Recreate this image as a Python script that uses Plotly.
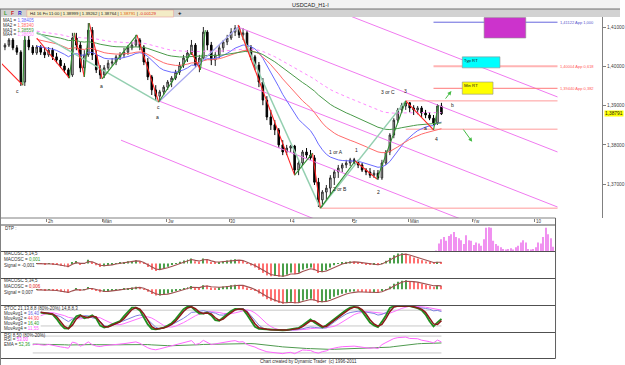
import numpy as np
import plotly.graph_objects as go

# ---------------- data ----------------
OPEN = [1.4049,1.4054,1.4067,1.4047,1.4036,1.3960,1.4067,1.4049,1.4034,1.4049,
        1.4036,1.4029,1.4041,1.4024,1.4016,1.4001,1.3991,1.3978,1.4072,1.4054,
        1.3996,1.4029,1.4092,1.4029,1.3991,1.3978,1.3996,1.4008,1.4011,1.4024,
        1.4029,1.4036,1.4047,1.4054,1.4067,1.4049,1.4011,1.3973,1.3940,1.3924,
        1.3935,1.3947,1.3960,1.3970,1.3985,1.4003,1.4021,1.4034,1.4054,1.4003,
        1.4021,1.4087,1.4054,1.4016,1.4029,1.4047,1.4062,1.4072,1.4087,1.4097,
        1.4080,1.4085,1.4047,1.4024,1.4003,1.3960,1.3914,1.3871,1.3851,1.3838,
        1.3800,1.3782,1.3792,1.3797,1.3736,1.3754,1.3782,1.3774,1.3767,1.3705,
        1.3660,1.3680,1.3690,1.3716,1.3731,1.3741,1.3749,1.3754,1.3762,1.3756,
        1.3749,1.3736,1.3731,1.3723,1.3728,1.3716,1.3754,1.3782,1.3825,1.3863,
        1.3889,1.3899,1.3907,1.3894,1.3889,1.3894,1.3881,1.3876,1.3868,1.3856,
        1.3899]
HIGH = [1.4059,1.4072,1.4072,1.4054,1.4041,1.4077,1.4077,1.4054,1.4054,1.4054,
        1.4047,1.4049,1.4047,1.4034,1.4021,1.4008,1.3996,1.4085,1.4085,1.4062,
        1.4041,1.4110,1.4100,1.4041,1.4003,1.4003,1.4016,1.4021,1.4029,1.4036,
        1.4047,1.4054,1.4062,1.4080,1.4072,1.4054,1.4021,1.3978,1.3952,1.3940,
        1.3952,1.3965,1.3975,1.3991,1.4011,1.4029,1.4041,1.4067,1.4059,1.4029,
        1.4100,1.4092,1.4062,1.4036,1.4054,1.4067,1.4080,1.4097,1.4105,1.4103,
        1.4097,1.4092,1.4054,1.4029,1.4011,1.3970,1.3924,1.3889,1.3863,1.3843,
        1.3812,1.3800,1.3800,1.3800,1.3762,1.3787,1.3792,1.3787,1.3774,1.3716,
        1.3685,1.3698,1.3723,1.3736,1.3749,1.3754,1.3762,1.3767,1.3767,1.3762,
        1.3754,1.3741,1.3741,1.3736,1.3736,1.3762,1.3787,1.3830,1.3868,1.3894,
        1.3907,1.3912,1.3909,1.3901,1.3899,1.3899,1.3889,1.3883,1.3876,1.3904,
        1.3907]
LOW = [1.4041,1.4049,1.4041,1.4029,1.3950,1.3950,1.4041,1.4029,1.4029,1.4029,
       1.4021,1.4024,1.4016,1.4008,1.3996,1.3983,1.3970,1.3973,1.4041,1.3985,
       1.3973,1.4024,1.4016,1.3983,1.3968,1.3970,1.3991,1.4001,1.4003,1.4016,
       1.4021,1.4029,1.4041,1.4049,1.4041,1.4003,1.3965,1.3927,1.3912,1.3912,
       1.3927,1.3940,1.3947,1.3965,1.3978,1.3996,1.4011,1.4029,1.3996,1.3985,
       1.4016,1.4041,1.4003,1.4001,1.4021,1.4036,1.4054,1.4067,1.4077,1.4072,
       1.4067,1.4036,1.4016,1.3991,1.3947,1.3901,1.3863,1.3838,1.3825,1.3792,
       1.3774,1.3774,1.3782,1.3723,1.3723,1.3749,1.3767,1.3762,1.3698,1.3642,
       1.3642,1.3660,1.3672,1.3698,1.3716,1.3731,1.3741,1.3746,1.3751,1.3741,
       1.3731,1.3723,1.3716,1.3716,1.3711,1.3711,1.3749,1.3774,1.3817,1.3856,
       1.3881,1.3889,1.3883,1.3876,1.3878,1.3871,1.3868,1.3863,1.3851,1.3851,
       1.3876]
CLOSE = [1.4054,1.4067,1.4047,1.4036,1.3960,1.4067,1.4049,1.4034,1.4049,1.4036,
         1.4029,1.4041,1.4024,1.4016,1.4001,1.3991,1.3978,1.4072,1.4054,1.3996,
         1.4029,1.4092,1.4029,1.3991,1.3978,1.3996,1.4008,1.4011,1.4024,1.4029,
         1.4036,1.4047,1.4054,1.4067,1.4049,1.4011,1.3973,1.3940,1.3924,1.3935,
         1.3947,1.3960,1.3970,1.3985,1.4003,1.4021,1.4034,1.4054,1.4003,1.4021,
         1.4087,1.4054,1.4016,1.4029,1.4047,1.4062,1.4072,1.4087,1.4097,1.4080,
         1.4085,1.4047,1.4024,1.4003,1.3960,1.3914,1.3871,1.3851,1.3838,1.3800,
         1.3782,1.3792,1.3797,1.3736,1.3754,1.3782,1.3774,1.3767,1.3705,1.3660,
         1.3680,1.3690,1.3716,1.3731,1.3741,1.3749,1.3754,1.3762,1.3756,1.3749,
         1.3736,1.3731,1.3723,1.3728,1.3716,1.3754,1.3782,1.3825,1.3863,1.3889,
         1.3901,1.3907,1.3894,1.3889,1.3894,1.3881,1.3876,1.3868,1.3856,1.3899,
         1.3879]

# moving averages: periods (in chart bars) and their values at the left edge
MA_NAMES = ["MA1", "MA2", "MA3", "MA4"]
MA_PERIODS = [16, 30, 55, 80]
MA_SEEDS = [1.4075, 1.4092, 1.4100, 1.4102]
MA_VALUES_TXT = ["1,38405", "1,38340", "1,38559", "1,38650"]

# price axis labels
PRICE_TICKS = [1.41, 1.40, 1.39, 1.38, 1.37]
PRICE_TICK_TEXT = ["1,41000", "1,40000", "1,39000", "1,38000", "1,37000"]
LAST_PRICE = 1.38791
LAST_PRICE_TXT = "1,38791"

# date labels (bar index where each label starts)
DATE_TICK_BARS = [10.5, 24.5, 40.75, 56.5, 72, 87.5, 101.75, 117.75, 133.5]
DATE_TICK_TEXT = ["2h", "Mân", "Jw", "30", "4", "5r", "Mân", "Yw", "10"]

# Pink channel lines: (bar, price) -> (bar, price)
CHANNELS = [((87.0, 1.4128), (139.25, 1.3922)),
            ((58.75, 1.4100), (139.25, 1.3782)),
            ((49.25, 1.3998), (139.25, 1.3642)),
            ((38.75, 1.3912), (139.25, 1.3515)),
            ((29.25, 1.3812), (81.25, 1.3598))]

# swing lines (pivots)
RED_SWINGS = [((-1.25, 1.4011), (4.5, 1.3952)), ((8, 1.4072), (16.25, 1.3970)),
              ((17.5, 1.4085), (20, 1.3973)), ((21.25, 1.4110), (24.5, 1.3968)),
              ((33.25, 1.4080), (38.75, 1.3909)), ((47, 1.4036), (49.25, 1.3991)),
              ((58.75, 1.4105), (73, 1.3723)), ((77.5, 1.3779), (79.5, 1.3639)),
              ((88.25, 1.3759), (93.75, 1.3713)), ((101, 1.3912), (108, 1.3838))]
GREEN_SWINGS = [((4.5, 1.3952), (5, 1.4075)), ((16.25, 1.3970), (17.5, 1.4085)),
                ((20, 1.3973), (21.25, 1.4110)), ((24.5, 1.3968), (33.25, 1.4080)),
                ((38.75, 1.3909), (47, 1.4036)), ((49.25, 1.3991), (50.5, 1.4092)),
                ((73, 1.3723), (77.5, 1.3779)), ((79.5, 1.3639), (88.25, 1.3759)),
                ((93.75, 1.3713), (101, 1.3912)), ((108, 1.3838), (109.25, 1.3901))]
TEAL_SWINGS = [((8, 1.4087), (38.75, 1.3909)), ((58.75, 1.4100), (79.5, 1.3639)),
               ((79.5, 1.3639), (101, 1.3912))]
LAVENDER_SWINGS = [((38.75, 1.3909), (58.75, 1.4100))]

# horizontal support/resistance levels: (from bar, to bar, price)
LEVELS = [(101, 139.25, 1.3912), (101, 139.25, 1.3840), (79.5, 139.25, 1.3639)]
# price projections
PROJ_PRICES = [1.41122, 1.40004, 1.39440]
PROJ_TEXT = ["1,41122 App 1,000", "1,40004 App 0,618", "1,39440 App 0,382"]
PROJ_COLORS = ["#6666dd", "#ffb4b4", "#ff7a7a"]
PROJ_FROM, PROJ_TO = 108, 139.25

# zones: (bar0, bar1, price0, price1, fill, label)
ZONES = [(120.75, 131.25, 1.4072, 1.4124, "#cc33cc", ""),
         (115.25, 124.75, 1.3996, 1.4024, "#00ffff", "Typ RT"),
         (115.25, 123.0, 1.3929, 1.3960, "#ffff00", "Min RT")]

WAVE_LABELS = [("3 or C", 96.5, 1.3934), ("3", 101.0, 1.3938), ("b", 112.75, 1.3902),
               ("a", 106.0, 1.3843), ("4", 108.75, 1.3815), ("1 or A", 83.5, 1.3782),
               ("1", 88.5, 1.3787), ("2 or B", 84.5, 1.3687), ("2", 94.25, 1.3680),
               ("c", 3.25, 1.3938), ("a", 24.25, 1.3950), ("c", 38.75, 1.3897),
               ("a", 38.5, 1.3870)]
ARROWS = [((110.75, 1.3914), (112.5, 1.3937)), ((115.25, 1.3843), (117.75, 1.3808))]

# DTP time projection bars (relative strength), on finer grid starting at bar 108.75
DTP = [2, 25, 38, 45, 33, 48, 53, 60, 45, 41, 35, 23, 50, 35, 33, 20, 28, 25, 18, 38,
       73, 75, 73, 33, 23, 18, 13, 8, 5, 8, 10, 6, 13, 18, 28, 35, 28, 8, 6, 8,
       13, 28, 25, 45, 73, 53, 41, 15]
DTP_START, DTP_STEP = 108.75, 0.625

# ---------------- indicator calculations ----------------
N = len(CLOSE)
BARS = np.arange(N)
c = np.array(CLOSE); hi = np.array(HIGH); lo = np.array(LOW)


def ema(vals, n, seed=None):
    a = 2.0 / (n + 1)
    prev = vals[0] if seed is None else seed
    out = []
    for v in vals:
        prev = prev + a * (v - prev)
        out.append(prev)
    return np.array(out)


def sma(vals, n):
    out = []
    for i in range(len(vals)):
        seg = vals[max(0, i - n + 1):i + 1]
        out.append(np.mean(seg))
    return np.array(out)


def stoch(n):
    out = []
    for i in range(N):
        hh = hi[max(0, i - n + 1):i + 1].max()
        ll = lo[max(0, i - n + 1):i + 1].min()
        out.append(100 * (c[i] - ll) / (hh - ll) if hh > ll else 50)
    return np.array(out)


def rsi(n):
    d = np.diff(c, prepend=c[0])
    up = np.where(d > 0, d, 0.0)
    dn = np.where(d < 0, -d, 0.0)
    au, ad = 0.0008, 0.0007
    out = []
    for u, dd in zip(up, dn):
        au = (au * (n - 1) + u) / n
        ad = (ad * (n - 1) + dd) / n
        out.append(50.0 if au + ad == 0 else 100 * au / (au + ad))
    return np.array(out)


mas = [ema(c, p, s) for p, s in zip(MA_PERIODS, MA_SEEDS)]
macd1 = ema(c, 3) - ema(c, 9)
sig1 = ema(macd1, 3)
macd2 = ema(c, 3) - ema(c, 21)
sig2 = ema(macd2, 3)
st_fast = sma(stoch(8), 3)
st_fast2 = sma(st_fast, 2)
st_slow = sma(stoch(13), 4)
st_slow2 = sma(st_slow, 5)
rsi_v = rsi(11)
rsi_e = ema(rsi_v, 30)

# ---------------- layout helpers ----------------
W, H = 625, 365
def PX(x): return x / W
def PY(y): return 1 - y / H

fig = go.Figure()
FONT = "Liberation Sans, Arial, sans-serif"

def line_tr(p0, p1, color, width=1, dash="solid", xa="x", ya="y"):
    fig.add_trace(go.Scatter(x=[p0[0], p1[0]], y=[p0[1], p1[1]], mode="lines",
                             line=dict(color=color, width=width, dash=dash),
                             xaxis=xa, yaxis=ya, hoverinfo="skip", showlegend=False))

# channel lines
for p0, p1 in CHANNELS:
    line_tr(p0, p1, "#f07af0", 1)
# levels
for b0, b1, pr in LEVELS:
    line_tr((b0, pr), (b1, pr), "#ff9a9a", 1)
for pr, col in zip(PROJ_PRICES, PROJ_COLORS):
    line_tr((PROJ_FROM, pr), (PROJ_TO, pr), col, 2 if col == "#ffb4b4" else 1)

# moving averages
MA_COLORS = ["#6a6aff", "#ff6a6a", "#4a9a4a", "#ff88ff"]
MA_DASH = ["solid", "solid", "solid", "dot"]
S0 = 8
for m, col, d in zip(mas, MA_COLORS, MA_DASH):
    fig.add_trace(go.Scatter(x=BARS[S0:], y=m[S0:], mode="lines",
                             line=dict(color=col, width=1, dash=d),
                             hoverinfo="skip", showlegend=False))

# swing lines under candles (teal/lavender)
for p0, p1 in TEAL_SWINGS:
    line_tr(p0, p1, "#94cfb0", 1.5)
for p0, p1 in LAVENDER_SWINGS:
    line_tr(p0, p1, "#a8a8f0", 1.2)

# candles
fig.add_trace(go.Candlestick(x=BARS, open=OPEN, high=HIGH, low=LOW, close=CLOSE,
                             increasing=dict(line=dict(color="#2a2a2a", width=1), fillcolor="#e0e0e0"),
                             decreasing=dict(line=dict(color="#000000", width=1), fillcolor="#000000"),
                             whiskerwidth=0, hoverinfo="skip", showlegend=False))

for p0, p1 in RED_SWINGS:
    line_tr(p0, p1, "#ff2020", 1.1)
for p0, p1 in GREEN_SWINGS:
    line_tr(p0, p1, "#2f8f2f", 1.1)

# ---- lower panels ----
# DTP
fig.add_trace(go.Bar(x=[DTP_START + k * DTP_STEP for k in range(len(DTP))], y=DTP,
                     width=0.28, marker=dict(color="#f090f0", line=dict(width=0)),
                     xaxis="x2", yaxis="y2", hoverinfo="skip", showlegend=False))

def macd_panel(mv, sv, ya):
    cols = ["#4a9f4a" if mv[i] >= mv[i - 1] else "#ff7070" for i in range(S0, N)]
    fig.add_trace(go.Bar(x=BARS[S0:], y=mv[S0:], width=0.25,
                         marker=dict(color=cols, line=dict(width=0)),
                         xaxis="x2", yaxis=ya, hoverinfo="skip", showlegend=False))
    fig.add_trace(go.Scatter(x=BARS[S0:], y=sv[S0:], mode="lines",
                             line=dict(color="#a05050", width=1.1),
                             xaxis="x2", yaxis=ya, hoverinfo="skip", showlegend=False))

macd_panel(macd1, sig1, "y3")
macd_panel(macd2, sig2, "y4")

S1 = 9
for lvl in (80, 20):
    fig.add_trace(go.Scatter(x=[S1, N - 1], y=[lvl, lvl], mode="lines",
                             line=dict(color="#c8c8c8", width=1),
                             xaxis="x2", yaxis="y5", hoverinfo="skip", showlegend=False))
for v, col, w in [(st_slow2, "#ff70ff", 1), (st_slow, "#8080e0", 1),
                  (st_fast, "#1f8f1f", 1.8), (st_fast2, "#8b1a1a", 1.5)]:
    fig.add_trace(go.Scatter(x=BARS[S1:], y=v[S1:], mode="lines",
                             line=dict(color=col, width=w),
                             xaxis="x2", yaxis="y5", hoverinfo="skip", showlegend=False))

S2 = 7
for lvl in (80, 20):
    fig.add_trace(go.Scatter(x=[S2, N - 1], y=[lvl, lvl], mode="lines",
                             line=dict(color="#c8c8c8", width=1),
                             xaxis="x2", yaxis="y6", hoverinfo="skip", showlegend=False))
fig.add_trace(go.Scatter(x=BARS[S2:], y=rsi_e[S2:], mode="lines",
                         line=dict(color="#4f9a4f", width=1),
                         xaxis="x2", yaxis="y6", hoverinfo="skip", showlegend=False))
fig.add_trace(go.Scatter(x=BARS[S2:], y=rsi_v[S2:], mode="lines",
                         line=dict(color="#ff66ff", width=1),
                         xaxis="x2", yaxis="y6", hoverinfo="skip", showlegend=False))

# ---------------- shapes ----------------
shapes = []
def rect(x0, y0, x1, y1, fill, line="rgba(0,0,0,0)", lw=0):
    shapes.append(dict(type="rect", xref="paper", yref="paper", x0=PX(x0), x1=PX(x1),
                       y0=PY(y1), y1=PY(y0), fillcolor=fill, line=dict(color=line, width=lw),
                       layer="below"))
def hline(x0, x1, y, color, w=1, layer="above"):
    shapes.append(dict(type="line", xref="paper", yref="paper", x0=PX(x0), x1=PX(x1),
                       y0=PY(y), y1=PY(y), line=dict(color=color, width=w), layer=layer))
def vline(x, y0, y1, color, w=1, layer="above"):
    shapes.append(dict(type="line", xref="paper", yref="paper", x0=PX(x), x1=PX(x),
                       y0=PY(y0), y1=PY(y1), line=dict(color=color, width=w), layer=layer))

rect(0, 0, 625, 9, "#f2f2f2")
rect(0, 9, 625, 17, "#d2d2d2")
hline(0, 625, 9, "#707070", 1)
rect(27, 10, 175, 17, "#f3ecc6", "#e6a0a0", 0.6)
hline(0, 560, 218, "#808080", 1)
for y in (225, 251.5, 278.5, 305.5, 332.5, 358.5):
    hline(0, 560, y, "#505050", 1.2 if y in (305.5, 332.5) else 1)
vline(560, 218, 358.5, "#606060", 1)
vline(0.5, 9, 365, "#808080", 1)

for b0, b1, p0, p1, fill, lab in ZONES:
    shapes.append(dict(type="rect", xref="x", yref="y", x0=b0, x1=b1, y0=p0, y1=p1,
                       fillcolor=fill, line=dict(color="#909090", width=0.6), layer="above"))

# ---------------- annotations ----------------
ann = []
def txt(x, y, s, color="#202020", size=5, xanchor="left", xref="paper", yref="paper",
        bg=None, yanchor="middle"):
    d = dict(x=x, y=y, text=s, showarrow=False, xref=xref, yref=yref, xanchor=xanchor,
             yanchor=yanchor, font=dict(family=FONT, size=size, color=color),
             borderpad=0)
    if bg:
        d["bgcolor"] = bg
    ann.append(d)

txt(PX(313), PY(4.5), "USDCAD_H1-I", "#202020", 5.5, "center")
txt(PX(3), PY(13.3), "<b>L</b>", "#2a9a2a", 5)
txt(PX(10.5), PY(13.3), "<b>F</b>", "#cc2222", 5)
txt(PX(17.5), PY(13.3), "<b>R</b>", "#2222cc", 5)
txt(PX(29), PY(13.5),
    "H4 16 Fri 11:00 | 1.38999 | 1.39262 | 1.38764 | <span style='color:#e05a00'>1.38791</span>"
    " | <span style='color:#e02020'>-0.00129</span>", "#202020", 4.3)
txt(PX(181), PY(13.3), "<b>+</b>", "#000000", 6, "center")

for k, (nm, vt, col) in enumerate(zip(MA_NAMES, MA_VALUES_TXT, MA_COLORS)):
    txt(PX(2), PY(20 + 5 * k), f"{nm} = <span style='color:{col}'>{vt}</span>", "#303030", 4.5)

# date labels
for b, t in zip(DATE_TICK_BARS, DATE_TICK_TEXT):
    txt(b, PY(221.5), t, "#404040", 4.5, "left", xref="x")

# last price
txt(PX(609), LAST_PRICE, LAST_PRICE_TXT, "#202020", 4.8, "left", yref="y", bg="#ffff00")

# projections
for pr, t, col in zip(PROJ_PRICES, PROJ_TEXT, PROJ_COLORS):
    txt(PROJ_TO + 0.4, pr, t, "#5555cc" if col == "#6666dd" else "#ff5a5a", 4, "left",
        xref="x", yref="y")
for b0, b1, p0, p1, fill, lab in ZONES:
    if lab:
        txt(b0 + 0.2, p1, lab, "#202020", 4.3, "left", xref="x", yref="y", yanchor="top")

for s, b, p in WAVE_LABELS:
    txt(b, p, s, "#202020", 5, "center", xref="x", yref="y")
for (b0, p0), (b1, p1) in ARROWS:
    ann.append(dict(x=b1, y=p1, ax=b0, ay=p0, xref="x", yref="y", axref="x", ayref="y",
                    showarrow=True, arrowhead=2, arrowsize=0.8, arrowwidth=1,
                    arrowcolor="#44bb44", text=""))

# panel labels
txt(PX(4), PY(228.5), "DTP :", "#303030", 4.5)
txt(PX(3), PY(253.5), "MACOSC 5,14,5", "#303030", 4.5)
txt(PX(3), PY(259.5), "MACOSC = <span style='color:#2a9a2a'>0,001</span>", "#303030", 4.5)
txt(PX(3), PY(265.5), "Signal = -0,001", "#303030", 4.5)
txt(PX(3), PY(280.5), "MACOSC 5,34,5", "#303030", 4.5)
txt(PX(3), PY(286.5), "MACOSC = <span style='color:#e02020'>0,006</span>", "#303030", 4.5)
txt(PX(3), PY(292.5), "Signal = 0,007", "#303030", 4.5)
txt(PX(3), PY(308), "STOC 21,13,8,8 (80%-20%) 14,8,8,3", "#303030", 4.5)
txt(PX(3), PY(313.3), "MovAvg1 = <span style='color:#5a5ae0'>16,40</span>", "#303030", 4.5)
txt(PX(3), PY(318.4), "MovAvg2 = <span style='color:#ff4060'>44,90</span>", "#303030", 4.5)
txt(PX(3), PY(323.5), "MovAvg3 = <span style='color:#2a9a2a'>16,40</span>", "#303030", 4.5)
txt(PX(3), PY(328.6), "MovAvg4 = <span style='color:#ff60ff'>11,55</span>", "#303030", 4.5)
txt(PX(3), PY(335), "RSI 8,50 (80%-20%)", "#303030", 4.5)
txt(PX(3), PY(339.8), "RSI = <span style='color:#ff40ff'>53,00</span>", "#303030", 4.5)
txt(PX(3), PY(344.6), "EMA = <span style='color:#2a9a2a'>52,36</span>", "#303030", 4.5)
txt(PX(311), PY(361.5), "Chart created by Dynamic Trader  (c) 1996-2011", "#303030", 4.5, "center")

# ---------------- axes ----------------
MAIN_DOM = [PX(2), PX(607)]
LOW_DOM = [PX(2), PX(560)]
BAR_PX, FIRST_PX = 4.0, 5.0
def xr(p0, p1):
    return [(p0 - FIRST_PX) / BAR_PX, (p1 - FIRST_PX) / BAR_PX]

def price_at(ypx):
    return 1.41 - (ypx - 27) * (0.01 / 39.3)

hidden = dict(visible=False, showgrid=False, zeroline=False, fixedrange=True)
fig.update_layout(
    width=W, height=H, margin=dict(l=0, r=0, t=0, b=0),
    paper_bgcolor="#ffffff", plot_bgcolor="#ffffff",
    showlegend=False, boxgap=0.45,
    font=dict(family=FONT, size=5, color="#303030"),
    xaxis=dict(domain=MAIN_DOM, range=xr(2, 607), anchor="y", showgrid=False, zeroline=False,
               showticklabels=False, ticks="outside", ticklen=3, tickcolor="#808080",
               tickvals=DATE_TICK_BARS, rangeslider=dict(visible=False), showline=False),
    yaxis=dict(domain=[PY(218), PY(17)], range=[price_at(218), price_at(17)], side="right",
               anchor="x", showgrid=False, zeroline=False, tickvals=PRICE_TICKS,
               ticktext=PRICE_TICK_TEXT, ticks="outside", ticklen=3, tickcolor="#808080",
               tickfont=dict(size=4.8, color="#404040", family=FONT), showline=True,
               linecolor="#808080", linewidth=1),
    xaxis2=dict(domain=LOW_DOM, range=xr(2, 560), anchor="y6", **hidden),
    yaxis2=dict(domain=[PY(251.5), PY(225.5)], range=[0, 80], anchor="x2", **hidden),
    yaxis3=dict(domain=[PY(278), PY(252)], anchor="x2", **hidden),
    yaxis4=dict(domain=[PY(305), PY(279)], anchor="x2", **hidden),
    yaxis5=dict(domain=[PY(332), PY(306)], range=[-3, 96], anchor="x2", **hidden),
    yaxis6=dict(domain=[PY(358), PY(333)], range=[2, 91], anchor="x2", **hidden),
    shapes=shapes, annotations=ann,
)

fig.write_html("out.html")
